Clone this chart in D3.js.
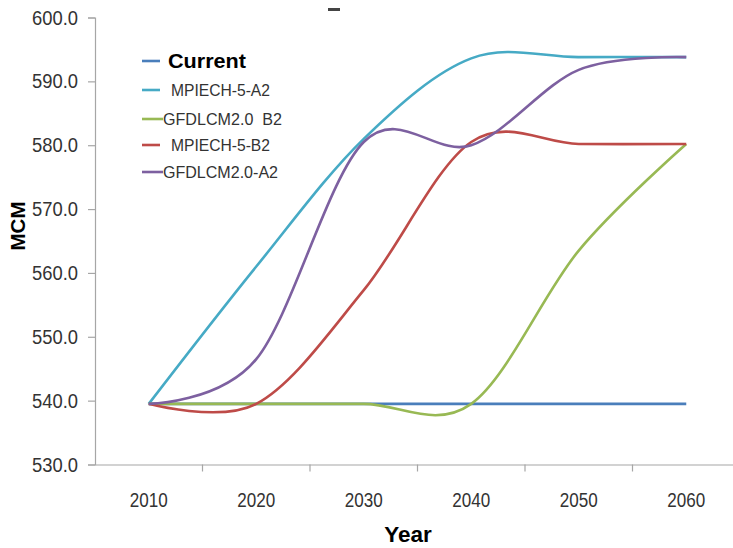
<!DOCTYPE html>
<html><head><meta charset="utf-8">
<script src="https://cdn.jsdelivr.net/npm/d3@7"></script>
<style>body{margin:0;background:#fff}svg{display:block;font-family:"Liberation Sans",Arial,sans-serif}</style>
</head><body><svg id="c" width="733" height="548"></svg>
<script>
const years = [2010, 2020, 2030, 2040, 2050, 2060];
const yTicks = [530, 540, 550, 560, 570, 580, 590, 600];
const seriesNames = ["Current", "MPIECH-5-A2", "GFDLCM2.0  B2", "MPIECH-5-B2", "GFDLCM2.0-A2"];
const current    = [539.5, 539.5, 539.5, 539.5, 539.5, 539.5];
const mpiechA2   = [539.5, 561.0, 581.0, 593.6, 593.8, 593.8];
const gfdlB2     = [539.5, 539.5, 539.5, 539.5, 563.5, 580.2];
const mpiechB2   = [539.5, 539.5, 557.3, 580.5, 580.2, 580.2];
const gfdlA2     = [539.5, 546.5, 580.5, 580.0, 591.8, 593.8];
const seriesValues = [current, mpiechA2, gfdlB2, mpiechB2, gfdlA2];
const colors = ["#4A7EBB", "#46AAC5", "#98B954", "#BE4B48", "#7D60A0"];

const svg = d3.select("#c");
const x = d3.scaleBand().domain(years).range([95, 740]).padding(0);
const y = d3.scaleLinear().domain([530, 600]).range([464.5, 17.5]);
const cx = d => x(d) + x.bandwidth() / 2;
const axisColor = "#a6a6a6";

// Y axis
const yAxis = svg.append("g").attr("transform", "translate(95,0)")
  .call(d3.axisLeft(y).tickValues(yTicks).tickFormat(d3.format(".1f")).tickSize(7).tickPadding(10));
yAxis.select(".domain").attr("stroke", axisColor).attr("stroke-width", 1.2);
yAxis.selectAll(".tick line").attr("stroke", axisColor).attr("stroke-width", 1.2);
yAxis.selectAll(".tick text").attr("fill", "#333").attr("font-size", 20.5)
  .attr("font-family", "'Liberation Sans', Arial, sans-serif")
  .attr("textLength", 46).attr("lengthAdjust", "spacingAndGlyphs");

// X axis: labels at centres, ticks at category boundaries
const xAxis = svg.append("g").attr("transform", "translate(0,464.5)")
  .call(d3.axisBottom(x).tickSize(0).tickPadding(28));
xAxis.select(".domain").attr("stroke", axisColor).attr("stroke-width", 1.2);
xAxis.selectAll(".tick text").attr("fill", "#333").attr("font-size", 20.5)
  .attr("font-family", "'Liberation Sans', Arial, sans-serif")
  .attr("textLength", 38).attr("lengthAdjust", "spacingAndGlyphs");
xAxis.selectAll(".bline").data(years.slice(1)).join("line").attr("class", "bline")
  .attr("x1", d => x(d)).attr("x2", d => x(d)).attr("y1", 0).attr("y2", 7)
  .attr("stroke", axisColor).attr("stroke-width", 1.2);

// Lines
const line = d3.line().x((d, i) => cx(years[i])).y(d => y(d)).curve(d3.curveCardinal.tension(0));
svg.append("g").selectAll("path").data(seriesValues).join("path")
  .attr("d", d => line(d)).attr("fill", "none")
  .attr("stroke", (d, i) => colors[i]).attr("stroke-width", 2.6);

// Axis titles
svg.append("text").attr("x", 408).attr("y", 542).attr("text-anchor", "middle")
  .attr("font-weight", "bold").attr("font-size", 22.5).attr("fill", "#000").text("Year");
svg.append("text").attr("transform", "translate(25,226) rotate(-90)").attr("text-anchor", "middle")
  .attr("font-weight", "bold").attr("font-size", 20.5).attr("fill", "#000").text("MCM");

// cropped title remnant
svg.append("rect").attr("x", 328).attr("y", 8).attr("width", 12).attr("height", 3).attr("fill", "#444");

// Legend
const legY = [61, 90, 119, 145, 172];
const legLineX2 = [160, 160, 163, 160, 163];
const legTextX = [168, 171, 163, 171, 163];
const legTextLen = [78, 99, 119, 99, 115];
const leg = svg.append("g");
seriesNames.forEach((n, i) => {
  leg.append("line").attr("x1", 142).attr("x2", legLineX2[i]).attr("y1", legY[i]).attr("y2", legY[i])
    .attr("stroke", colors[i]).attr("stroke-width", 2.6);
  leg.append("text").attr("x", legTextX[i]).attr("y", legY[i]).attr("dy", "0.36em")
    .attr("font-size", i === 0 ? 20 : 16.5).attr("font-weight", i === 0 ? "bold" : "normal")
    .attr("fill", i === 0 ? "#000" : "#333").style("white-space", "pre")
    .attr("textLength", legTextLen[i]).attr("lengthAdjust", "spacingAndGlyphs").text(n);
});
</script></body></html>
